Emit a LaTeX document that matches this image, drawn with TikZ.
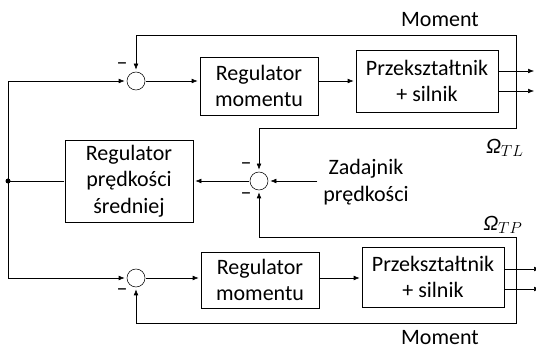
\documentclass[tikz,border=0pt]{standalone}
\usepackage{fontspec}
\setmainfont{Carlito}
\usetikzlibrary{arrows.meta}
\begin{document}
\begin{tikzpicture}[x=0.75pt, y=-0.75pt]
\tikzset{ >={Latex[length=6pt,width=4.5pt]}, line width=1pt,
  blok/.style={draw, align=center, inner sep=0pt, font=\fontsize{16.5}{20}\selectfont},
  suma/.style={draw, circle, minimum size=13.5pt, inner sep=0pt},
  opis/.style={align=center, inner sep=0pt, font=\fontsize{16.5}{20}\selectfont},
}

\useasboundingbox (0,0) rectangle (536,349);

% sumatory
\node [suma] (SG) at (136,81) {};
\node [suma] (SS) at (259,181) {};
\node [suma] (SD) at (136,278) {};

% bloki
\node [blok, minimum width=88.5pt, minimum height=43.5pt] (RMG) at (259,86) {Regulator\\momentu};
\node [blok, minimum width=106.5pt, minimum height=46.5pt] (PSG) at (427,81) {Przekształtnik\\+ silnik};
\node [blok, minimum width=96pt, minimum height=61.5pt] (RPS) at (129,181) {Regulator\\prędkości\\średniej};
\node [blok, minimum width=88.5pt, minimum height=42pt] (RMD) at (260,280) {Regulator\\momentu};
\node [blok, minimum width=106.5pt, minimum height=45pt] (PSD) at (433,277) {Przekształtnik\\+ silnik};

\node [opis, inner sep=4pt] (ZAD) at (366,182) {Zadajnik\\prędkości};

\coordinate (P) at (8,181);
\coordinate (GMg) at (516,71);
\coordinate (GWg) at (516,91);
\coordinate (GWd) at (516,269);
\coordinate (GMd) at (516,289);
\fill (P) circle (2.5);

% tor gorny
\draw [->] (P) |- (SG);
\draw [->] (SG) -- (SG -| RMG.west);
\draw [->] (RMG.east |- SG) -- (PSG.west |- SG);
\draw [->] (PSG.east |- GMg) -- ++(37,0);
\draw [->] (PSG.east |- GWg) -- ++(37,0);
\draw [->] (GMg) -- ++(0,-36) -| (SG);
\draw [->] (GMg) -- ++(0,57) -| (SS);

% predkosc
\draw [->] (ZAD.west |- SS) -- (SS);
\draw [->] (SS) -- (RPS);
\draw (RPS) -- (P);

% tor dolny
\draw [->] (P) |- (SD);
\draw [->] (SD) -- (SD -| RMD.west);
\draw [->] (RMD.east |- SD) -- (PSD.west |- SD);
\draw [->] (PSD.east |- GWd) -- ++(37,0);
\draw [->] (PSD.east |- GMd) -- ++(37,0);
\draw [->] (GWd) -- ++(0,-32) -| (SS);
\draw [->] (GWd) -- ++(0,54) -| (SD);

\node [opis] (MG) at (440,20) {Moment};
\node [opis] (MD) at (440,338) {Moment};
\node [opis] (WL) at (505,148) {\textit{Ω}$_{TL}$};
\node [opis] (WP) at (503,225) {\textit{Ω}$_{TP}$};

\node [opis] at (122,66) {–};
\node [opis] at (246,166) {–};
\node [opis] at (246,196) {–};
\node [opis] at (122,292) {–};

\end{tikzpicture}
\end{document}
